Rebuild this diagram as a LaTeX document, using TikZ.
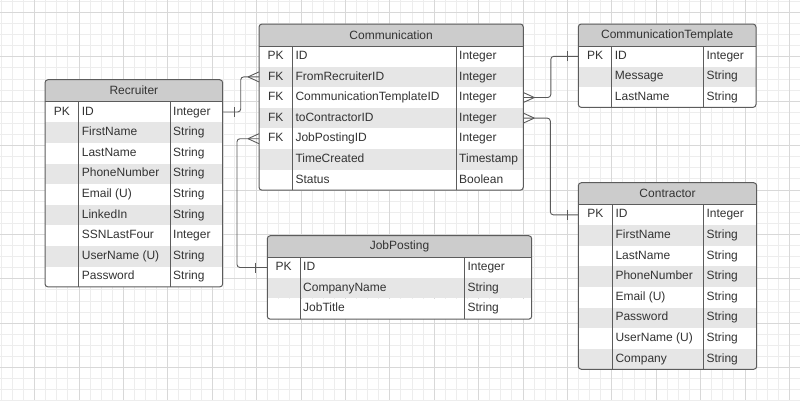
\documentclass[tikz,border=0pt]{standalone}
\usepackage{fontspec}
\setmainfont{Liberation Sans}
\definecolor{gridminor}{HTML}{EDEDED}
\definecolor{gridmajor}{HTML}{D8D8D8}
\definecolor{hdrgray}{HTML}{CCCCCC}
\definecolor{rowgray}{HTML}{E6E6E6}
\definecolor{tblline}{HTML}{5C5C5C}
\definecolor{linkgray}{HTML}{5A5A5A}
\definecolor{txtgray}{HTML}{333333}

\begin{document}
\begin{tikzpicture}[x=1pt,y=-1pt,
  hdr/.style={fill=hdrgray, text=txtgray, inner sep=0pt, outer sep=0pt, minimum height=22pt, anchor=north west, font=\fontsize{12}{14}\selectfont},
  rowbox/.style={inner sep=0pt, outer sep=0pt, minimum height=20.6pt, anchor=north west},
  cell/.style={inner sep=0pt, text=txtgray, text height=8.6pt, text depth=2.4pt, font=\fontsize{12}{14}\selectfont},
  tbl/.style={draw=tblline, line width=1pt},
  link/.style={draw=linkgray, line width=0.9pt}]
\useasboundingbox (0,0) rectangle (800,400);
\fill[white] (0,0) rectangle (800,400);
% grid
\foreach \k in {0,...,72}
  \draw[gridminor, line width=1pt] (1.3+11.1*\k,0) -- (1.3+11.1*\k,400);
\foreach \k in {0,...,36}
  \draw[gridminor, line width=1pt] (0,1.3+11.1*\k) -- (800,1.3+11.1*\k);
\foreach \k in {0,...,17}
  \draw[gridmajor, line width=1pt] (34.6+44.4*\k,0) -- (34.6+44.4*\k,400);
\foreach \k in {0,...,8}
  \draw[gridmajor, line width=1pt] (0,12.4+44.4*\k) -- (800,12.4+44.4*\k);

% Recruiter
\begin{scope}
\clip[rounded corners=3] (45,79.7) rectangle (222.7,286.9);
\node[hdr, minimum width=177.7pt] (recT) at (45,79.7) {Recruiter};
\foreach \pk/\nm/\ty [count=\i from 0] in {PK/ID/Integer, /FirstName/String, /LastName/String,
    /PhoneNumber/String, /Email (U)/String, /LinkedIn/String, /SSNLastFour/Integer,
    /UserName (U)/String, /Password/String} {
  \ifodd\i\relax\def\rowfill{rowgray}\else\def\rowfill{white}\fi
  \node[rowbox, fill=\rowfill, minimum width=177.7pt] (rec\i) at (45,101.7+20.6*\i) {};
  \node[cell] (rec\i-k) at (61.9,112+20.6*\i) {\pk};
  \node[cell, anchor=west] (rec\i-n) at (81.7,112+20.6*\i) {\nm};
  \node[cell, anchor=west] (rec\i-t) at (173,112+20.6*\i) {\ty};
}
\end{scope}
\draw[tbl, rounded corners=3] (45,79.7) rectangle (222.7,286.9);
\draw[tbl] (recT.south west) -- (recT.south east);
\draw[tbl] (78.7,101.7) -- (78.7,286.9) (170,101.7) -- (170,286.9);

% Communication
\begin{scope}
\clip[rounded corners=3] (259,24) rectangle (523.3,190.2);
\node[hdr, minimum width=264.3pt] (comT) at (259,24) {Communication};
\foreach \pk/\nm/\ty [count=\i from 0] in {PK/ID/Integer, FK/FromRecruiterID/Integer,
    FK/CommunicationTemplateID/Integer, FK/toContractorID/Integer, FK/JobPostingID/Integer,
    /TimeCreated/Timestamp, /Status/Boolean} {
  \ifodd\i\relax\def\rowfill{rowgray}\else\def\rowfill{white}\fi
  \node[rowbox, fill=\rowfill, minimum width=264.3pt] (com\i) at (259,46+20.6*\i) {};
  \node[cell] (com\i-k) at (275.7,56.3+20.6*\i) {\pk};
  \node[cell, anchor=west] (com\i-n) at (295.3,56.3+20.6*\i) {\nm};
  \node[cell, anchor=west] (com\i-t) at (459,56.3+20.6*\i) {\ty};
}
\end{scope}
\draw[tbl, rounded corners=3] (259,24) rectangle (523.3,190.2);
\draw[tbl] (comT.south west) -- (comT.south east);
\draw[tbl] (292.3,46) -- (292.3,190.2) (456,46) -- (456,190.2);

% CommunicationTemplate
\begin{scope}
\clip[rounded corners=3] (578.3,24) rectangle (756,107.4);
\node[hdr, minimum width=177.7pt] (ctT) at (578.3,24) {CommunicationTemplate};
\foreach \pk/\nm/\ty [count=\i from 0] in {PK/ID/Integer, /Message/String, /LastName/String} {
  \ifodd\i\relax\def\rowfill{rowgray}\else\def\rowfill{white}\fi
  \node[rowbox, fill=\rowfill, minimum width=177.7pt] (ct\i) at (578.3,46+20.5*\i) {};
  \node[cell] (ct\i-k) at (595,56.2+20.5*\i) {\pk};
  \node[cell, anchor=west] (ct\i-n) at (614.7,56.2+20.5*\i) {\nm};
  \node[cell, anchor=west] (ct\i-t) at (706.3,56.2+20.5*\i) {\ty};
}
\end{scope}
\draw[tbl, rounded corners=3] (578.3,24) rectangle (756,107.4);
\draw[tbl] (ctT.south west) -- (ctT.south east);
\draw[tbl] (611.7,46) -- (611.7,107.4) (703.3,46) -- (703.3,107.4);

% Contractor
\begin{scope}
\clip[rounded corners=3] (578.3,182.7) rectangle (756.7,369.3);
\node[hdr, minimum width=178.4pt, minimum height=21.8pt] (coT) at (578.3,182.7) {Contractor};
\foreach \pk/\nm/\ty [count=\i from 0] in {PK/ID/Integer, /FirstName/String, /LastName/String,
    /PhoneNumber/String, /Email (U)/String, /Password/String, /UserName (U)/String,
    /Company/String} {
  \ifodd\i\relax\def\rowfill{rowgray}\else\def\rowfill{white}\fi
  \node[rowbox, fill=\rowfill, minimum width=178.4pt] (co\i) at (578.3,204.5+20.6*\i) {};
  \node[cell] (co\i-k) at (595.3,214.8+20.6*\i) {\pk};
  \node[cell, anchor=west] (co\i-n) at (615.3,214.8+20.6*\i) {\nm};
  \node[cell, anchor=west] (co\i-t) at (706.3,214.8+20.6*\i) {\ty};
}
\end{scope}
\draw[tbl, rounded corners=3] (578.3,182.7) rectangle (756.7,369.3);
\draw[tbl] (coT.south west) -- (coT.south east);
\draw[tbl] (612.3,204.5) -- (612.3,369.3) (703.3,204.5) -- (703.3,369.3);

% JobPosting
\begin{scope}
\clip[rounded corners=3] (267.3,235.7) rectangle (531.7,319.2);
\node[hdr, minimum width=264.4pt, minimum height=21.5pt] (jpT) at (267.3,235.7) {JobPosting};
\foreach \pk/\nm/\ty [count=\i from 0] in {PK/ID/Integer, /CompanyName/String, /JobTitle/String} {
  \ifodd\i\relax\def\rowfill{rowgray}\else\def\rowfill{white}\fi
  \node[rowbox, fill=\rowfill, minimum width=264.4pt] (jp\i) at (267.3,257.2+20.67*\i) {};
  \node[cell] (jp\i-k) at (283.7,267.5+20.67*\i) {\pk};
  \node[cell, anchor=west] (jp\i-n) at (303,267.5+20.67*\i) {\nm};
  \node[cell, anchor=west] (jp\i-t) at (467.3,267.5+20.67*\i) {\ty};
}
\end{scope}
\draw[tbl, rounded corners=3] (267.3,235.7) rectangle (531.7,319.2);
\draw[tbl] (jpT.south west) -- (jpT.south east);
\draw[tbl] (300,257.2) -- (300,319.2) (464.3,257.2) -- (464.3,319.2);

% relations
\draw[link, rounded corners=3] (rec0.east) -- ++(18,0) |- (com1.west);
\draw[link] ([xshift=12,yshift=5]rec0.east) -- ([xshift=12,yshift=-5]rec0.east);
\draw[link] ([xshift=-11]com1.west) -- ([yshift=5]com1.west)
  ([xshift=-11]com1.west) -- ([yshift=-5]com1.west);

\draw[link, rounded corners=3] (com4.west) -- ++(-22,0) |- (jp0.west);
\draw[link] ([xshift=-11]com4.west) -- ([yshift=5]com4.west)
  ([xshift=-11]com4.west) -- ([yshift=-5]com4.west);
\draw[link] ([xshift=-11.5,yshift=5]jp0.west) -- ([xshift=-11.5,yshift=-5]jp0.west);

\draw[link, rounded corners=3] (com2.east) -- ++(27.5,0) |- (ct0.west);
\draw[link] ([xshift=11]com2.east) -- ([yshift=5]com2.east)
  ([xshift=11]com2.east) -- ([yshift=-5]com2.east);
\draw[link] ([xshift=-10.6,yshift=5]ct0.west) -- ([xshift=-10.6,yshift=-5]ct0.west);

\draw[link, rounded corners=3] (com3.east) -- ++(27,0) |- (co0.west);
\draw[link] ([xshift=11]com3.east) -- ([yshift=5]com3.east)
  ([xshift=11]com3.east) -- ([yshift=-5]com3.east);
\draw[link] ([xshift=-10.6,yshift=5]co0.west) -- ([xshift=-10.6,yshift=-5]co0.west);
\end{tikzpicture}
\end{document}
